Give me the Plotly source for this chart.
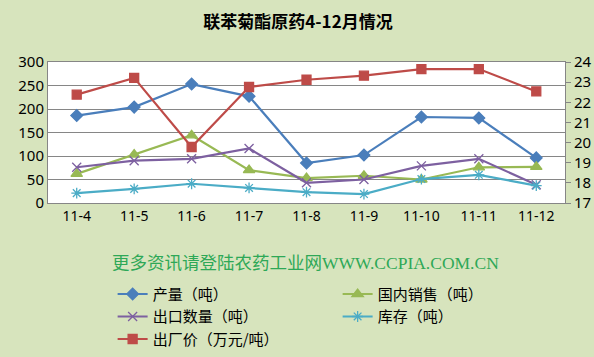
import plotly.graph_objects as go

months = ["11-4", "11-5", "11-6", "11-7", "11-8", "11-9", "11-10", "11-11", "11-12"]
production = [186, 204, 253, 227, 85, 102, 183, 181, 96]
domestic_sales = [62, 103, 144, 70, 53, 58, 50, 76, 77]
export_qty = [76, 90, 94, 116, 43, 50, 79, 94, 39]
inventory = [21, 30, 41, 32, 23, 19, 51, 60, 37]
factory_price = [22.38, 23.21, 19.78, 22.76, 23.12, 23.32, 23.65, 23.65, 22.54]

left_ticks = [0, 50, 100, 150, 200, 250, 300]
right_ticks = [17, 18, 19, 20, 21, 22, 23, 24]

BG = "#D7E4BD"
fig = go.Figure()

def add(name, y, color, symbol, size, axis="y", lw=2.2):
    fig.add_trace(go.Scatter(
        x=months, y=y, name=name, yaxis=axis, mode="lines+markers",
        line=dict(color=color, width=lw),
        marker=dict(symbol=symbol, size=size, color=color,
                    line=dict(color=color, width=1.3)),
    ))

add("产量（吨）", production, "#4A7EBB", "diamond", 9)
add("国内销售（吨）", domestic_sales, "#98B954", "triangle-up", 10)
add("出口数量（吨）", export_qty, "#7D60A0", "x-thin-open", 9)
add("库存（吨）", inventory, "#4BACC6", "asterisk-open", 9)
add("出厂价（万元/吨）", factory_price, "#BE4B48", "square", 9, axis="y2")

fig.update_layout(
    width=594, height=357,
    paper_bgcolor=BG, plot_bgcolor="white",
    margin=dict(l=48, r=29, t=62, b=154, autoexpand=False),
    font=dict(family="Noto Sans, Noto Sans CJK SC", size=14, color="black"),
    title=dict(text="<b>联苯菊酯原药4-12月情况</b>", x=298 / 594, xref="container",
               xanchor="center", y=1 - 22 / 357, yref="container", yanchor="middle",
               font=dict(family="Noto Sans CJK SC", size=17, color="black")),
    xaxis=dict(type="category", showgrid=False, showline=True, linecolor="#868686",
               linewidth=1, mirror=True, ticks="", tickfont=dict(size=14),
               range=[-0.5, 8.5]),
    yaxis=dict(range=[0, 300], tickvals=left_ticks, showgrid=True,
               gridcolor="#868686", gridwidth=1, showline=True, linecolor="#868686",
               mirror=True, zeroline=False, ticks="", tickfont=dict(size=15)),
    yaxis2=dict(range=[17, 24], tickvals=right_ticks, overlaying="y", side="right",
                showgrid=False, showline=True, linecolor="#868686", ticks="outside",
                ticklen=5, tickcolor="#868686", zeroline=False, tickfont=dict(size=15)),
    legend=dict(orientation="h", x=0.125, xanchor="left", y=-0.53, yanchor="top",
                entrywidth=180, entrywidthmode="pixels", bgcolor="rgba(0,0,0,0)",
                font=dict(family="Noto Sans CJK SC", size=15), tracegroupgap=0,
                itemwidth=30),
    showlegend=True,
)

fig.add_annotation(
    text="更多资讯请登陆农药工业网WWW.CCPIA.COM.CN",
    xref="paper", yref="paper", x=(305 - 48) / 517, y=(203 - 263) / 141,
    xanchor="center", yanchor="middle", showarrow=False,
    font=dict(family="Liberation Serif, Noto Sans CJK SC", size=17.5, color="#2EA857"),
)

fig.write_html("out.html", config={"displayModeBar": False},
               post_script="document.body.style.margin='0';")
